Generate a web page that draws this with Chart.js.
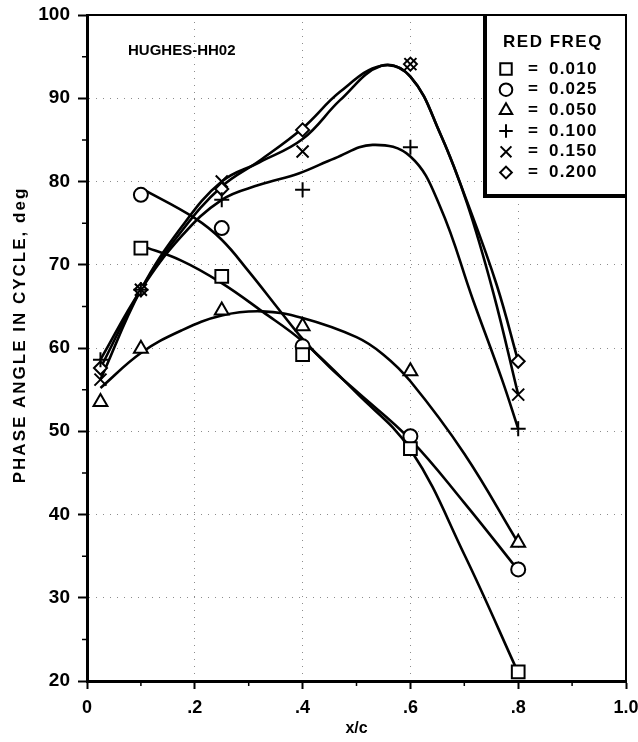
<!DOCTYPE html>
<html>
<head>
<meta charset="utf-8">
<script src="https://cdn.jsdelivr.net/npm/chart.js@4.4.0/dist/chart.umd.min.js"></script>
<style>
  html, body { margin: 0; padding: 0; background: #fff; }
</style>
</head>
<body>
<canvas id="myChart" width="638" height="742"></canvas>
<script>
// chordwise stations where the phase was measured
var stations = [0.025, 0.1, 0.25, 0.4, 0.6, 0.8];
var freqLabels = ['0.010', '0.025', '0.050', '0.100', '0.150', '0.200'];

// measured phase angle, deg (null = not measured)
var phase010 = [null, 72.0, 68.6, 59.2, 47.9, 21.1];
var phase025 = [null, 78.4, 74.4, 60.2, 49.4, 33.4];
var phase050 = [53.5, 59.9, 64.5, 62.6, 57.2, 36.6];
var phase100 = [58.6, 67.0, 77.8, 79.0, 84.1, 50.3];
var phase150 = [56.2, 67.0, 80.0, 83.6, 94.1, 54.4];
var phase200 = [57.6, 67.0, 79.1, 86.2, 94.1, 58.4];

// faired curves through each set
var fair010X = [0.1, 0.175, 0.25, 0.325, 0.4, 0.5, 0.6, 0.7, 0.8];
var fair010Y = [72.3, 70.5, 67.8, 64.4, 60.8, 54.6, 47.8, 35.2, 21.0];
var fair025X = [0.1, 0.2, 0.25, 0.3, 0.36, 0.4, 0.45, 0.5, 0.6, 0.7, 0.8];
var fair025Y = [79.2, 75.6, 73.0, 69.2, 64.3, 61.1, 57.7, 54.8, 49.0, 41.4, 33.3];
var fair050X = [0.025, 0.1, 0.175, 0.25, 0.325, 0.4, 0.5, 0.55, 0.6, 0.7, 0.8];
var fair050Y = [55.2, 59.4, 62.1, 63.9, 64.4, 63.6, 61.3, 59.2, 56.0, 47.3, 36.6];
var fair100X = [0.025, 0.1, 0.175, 0.25, 0.32, 0.394, 0.46, 0.53, 0.6, 0.655, 0.716, 0.77, 0.8];
var fair100Y = [58.6, 67.0, 73.4, 77.8, 79.6, 81.0, 82.8, 84.4, 83.0, 77.0, 65.8, 56.2, 50.3];
var fair150X = [0.025, 0.1, 0.175, 0.25, 0.32, 0.4, 0.47, 0.546, 0.6, 0.655, 0.705, 0.754, 0.8];
var fair150Y = [56.2, 67.0, 74.5, 80.0, 82.3, 85.1, 89.8, 93.9, 92.6, 85.8, 77.4, 66.6, 54.4];
var fair200X = [0.025, 0.1, 0.175, 0.25, 0.32, 0.4, 0.47, 0.546, 0.6, 0.655, 0.705, 0.76, 0.8];
var fair200Y = [57.6, 67.0, 74.0, 79.4, 82.5, 86.4, 90.8, 93.9, 92.6, 85.8, 77.6, 67.6, 58.4];

var xTickLabels = ['0', '.2', '.4', '.6', '.8', '1.0'];
var xMinorTicks = [0.1, 0.3, 0.5, 0.7, 0.9];
var yMinorTicks = [25, 35, 45, 55, 65, 75, 85, 95];

var FONT = "'Liberation Sans', Arial, Helvetica, sans-serif";

function pts(xs, ys) {
  var out = [];
  for (var i = 0; i < xs.length; i++) {
    if (ys[i] !== null) out.push({x: xs[i], y: ys[i]});
  }
  return out;
}

var markerSets = [
  {data: phase010, style: 'rect', r: 9},
  {data: phase025, style: 'circle', r: 7},
  {data: phase050, style: 'triangle', r: 8},
  {data: phase100, style: 'cross', r: 7.5},
  {data: phase150, style: 'crossRot', r: 8.5},
  {data: phase200, style: 'rectRot', r: 6.5}
];
var fairSets = [
  [fair010X, fair010Y], [fair025X, fair025Y], [fair050X, fair050Y],
  [fair100X, fair100Y], [fair150X, fair150Y], [fair200X, fair200Y]
];

var datasets = [];
markerSets.forEach(function (m, i) {
  datasets.push({
    label: freqLabels[i],
    data: pts(stations, m.data),
    showLine: false,
    pointStyle: m.style,
    pointRadius: m.r,
    pointBorderWidth: 2,
    pointBorderColor: '#000',
    pointBackgroundColor: '#fff',
    order: i
  });
});
fairSets.forEach(function (f) {
  datasets.push({
    label: '',
    data: pts(f[0], f[1]),
    showLine: true,
    borderColor: '#000',
    borderWidth: 2.6,
    pointRadius: 0,
    tension: 0.4,
    order: 10
  });
});

// top/right frame, minor ticks, y title, the key box and the test label
var plotFrame = {
  id: 'plotFrame',
  afterDraw: function (chart) {
    var ctx = chart.ctx, a = chart.chartArea;
    var xs = chart.scales.x, ys = chart.scales.y;
    ctx.save();
    ctx.strokeStyle = '#000';
    ctx.lineWidth = 2;
    ctx.beginPath();
    ctx.moveTo(a.left, a.top);
    ctx.lineTo(a.right, a.top);
    ctx.lineTo(a.right, a.bottom);
    ctx.stroke();

    ctx.lineWidth = 1.5;
    ctx.beginPath();
    yMinorTicks.forEach(function (v) {
      var py = ys.getPixelForValue(v);
      ctx.moveTo(a.left - 5, py);
      ctx.lineTo(a.left, py);
    });
    xMinorTicks.forEach(function (v) {
      var px = xs.getPixelForValue(v);
      ctx.moveTo(px, a.bottom);
      ctx.lineTo(px, a.bottom + 5);
    });
    ctx.stroke();

    // y axis title, wide-set like the lettering on the axes
    ctx.save();
    ctx.translate(20, 335);
    ctx.rotate(-Math.PI / 2);
    ctx.fillStyle = '#000';
    ctx.font = 'bold 17px ' + FONT;
    ctx.letterSpacing = '2px';
    ctx.textAlign = 'center';
    ctx.textBaseline = 'middle';
    ctx.fillText('PHASE ANGLE IN CYCLE, deg', 0, 0);
    ctx.restore();

    // test label
    ctx.fillStyle = '#000';
    ctx.font = 'bold 15px ' + FONT;
    ctx.textAlign = 'left';
    ctx.textBaseline = 'middle';
    ctx.fillText('HUGHES-HH02', a.left + 41, a.top + 36);

    // key box
    var bl = a.right - 141, bt = a.top, br = a.right, bb = a.top + 181;
    ctx.fillStyle = '#fff';
    ctx.fillRect(bl, bt + 1, br - bl - 1, bb - bt);
    ctx.strokeStyle = '#000';
    ctx.lineWidth = 4;
    ctx.beginPath();
    ctx.moveTo(bl, bt);
    ctx.lineTo(bl, bb);
    ctx.lineTo(br, bb);
    ctx.stroke();

    ctx.fillStyle = '#000';
    ctx.font = 'bold 17px ' + FONT;
    ctx.letterSpacing = '1.5px';
    ctx.textAlign = 'center';
    ctx.fillText('RED FREQ', bl + 68, bt + 27);

    markerSets.forEach(function (m, i) {
      var ry = bt + 54 + i * 20.7;
      ctx.fillStyle = '#fff';
      ctx.strokeStyle = '#000';
      ctx.lineWidth = 2;
      Chart.helpers.drawPoint(ctx, {pointStyle: m.style, radius: m.r * 0.9, rotation: 0, borderWidth: 2}, bl + 21, ry);
      ctx.fillStyle = '#000';
      ctx.font = 'bold 17px ' + FONT;
      ctx.letterSpacing = '1.2px';
      ctx.textAlign = 'left';
      ctx.fillText('=', bl + 43, ry);
      ctx.fillText(freqLabels[i], bl + 64, ry);
    });
    ctx.restore();
  }
};

var ctx = document.getElementById('myChart').getContext('2d');
var chart = new Chart(ctx, {
  type: 'scatter',
  data: {datasets: datasets},
  plugins: [plotFrame],
  options: {
    responsive: false,
    animation: false,
    events: [],
    layout: {padding: {top: 15, right: 12, left: 0, bottom: 0}},
    plugins: {
      legend: {display: false},
      tooltip: {enabled: false}
    },
    scales: {
      x: {
        type: 'linear',
        min: 0,
        max: 1,
        afterFit: function (s) {
          s.height = 61;
          s.paddingLeft = 0;
          s.paddingRight = 0;
        },
        ticks: {
          stepSize: 0.2,
          color: '#000',
          padding: 8,
          font: {family: FONT, size: 18, weight: 'bold'},
          callback: function (v, i) { return xTickLabels[i]; }
        },
        grid: {color: '#8c8c8c', lineWidth: 1, tickColor: '#000', tickWidth: 2, tickLength: 8},
        border: {color: '#000', width: 3, dash: [1, 6]},
        title: {
          display: true,
          text: 'x/c',
          color: '#000',
          padding: {top: 0, bottom: 4},
          font: {family: FONT, size: 16, weight: 'bold'}
        }
      },
      y: {
        min: 20,
        max: 100,
        afterFit: function (s) {
          s.width = 87;
          s.paddingTop = 0;
          s.paddingBottom = 0;
        },
        ticks: {
          stepSize: 10,
          color: '#000',
          padding: 8,
          font: {family: FONT, size: 19, weight: 'bold'}
        },
        grid: {color: '#8c8c8c', lineWidth: 1, tickColor: '#000', tickWidth: 2, tickLength: 9},
        border: {color: '#000', width: 3, dash: [1, 6]}
      }
    }
  }
});
</script>
</body>
</html>
